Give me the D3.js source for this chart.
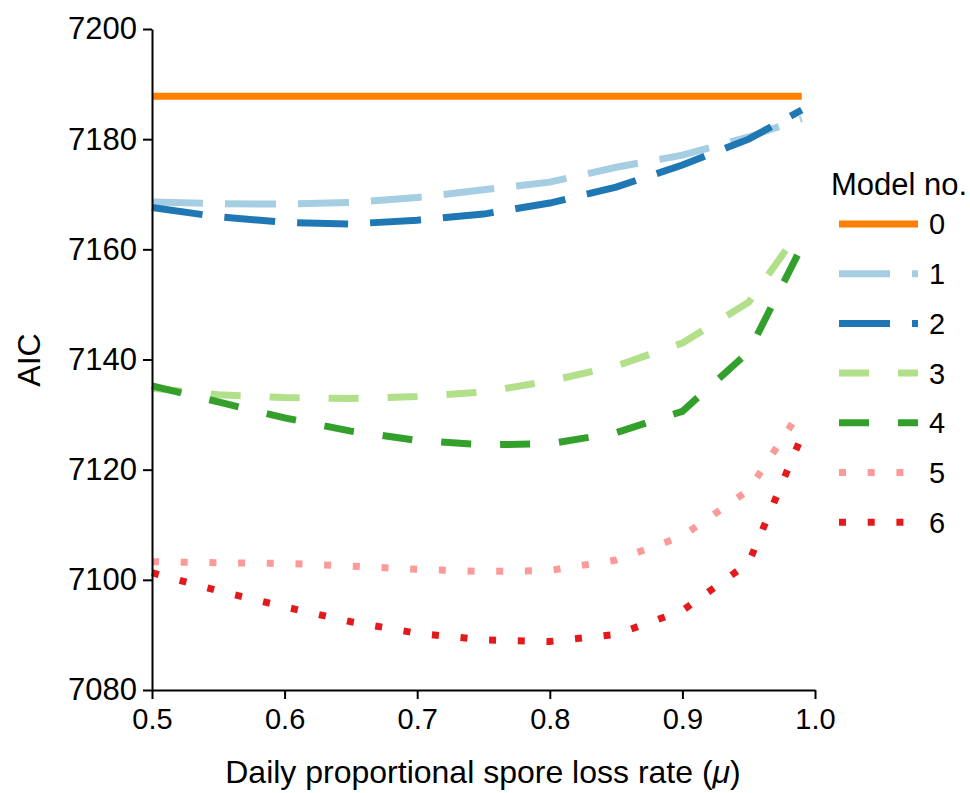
<!DOCTYPE html>
<html>
<head>
<meta charset="utf-8">
<script src="https://cdn.jsdelivr.net/npm/d3@7"></script>
<style>
  body { margin: 0; background: #fff; }
  text { font-family: "Liberation Sans", Arial, Helvetica, sans-serif; fill: #000; }
</style>
</head>
<body>
<div id="chart"></div>
<script>
// spore loss rate grid
var mu = [0.5, 0.55, 0.6, 0.65, 0.7, 0.75, 0.8, 0.85, 0.9, 0.95, 0.99];

// AIC per model
var aic0 = [7187.8, 7187.8, 7187.8, 7187.8, 7187.8, 7187.8, 7187.8, 7187.8, 7187.8, 7187.8, 7187.8];
var aic1 = [7168.6, 7168.3, 7168.2, 7168.5, 7169.4, 7170.8, 7172.2, 7174.9, 7177.1, 7180.4, 7183.7];
var aic2 = [7167.6, 7165.9, 7164.9, 7164.6, 7165.3, 7166.4, 7168.4, 7171.3, 7175.3, 7180.0, 7185.3];
var aic3 = [7134.8, 7133.6, 7133.1, 7132.9, 7133.3, 7134.1, 7136.1, 7138.8, 7143.0, 7150.4, 7163.9];
var aic4 = [7135.2, 7132.3, 7129.4, 7127.0, 7125.3, 7124.5, 7124.7, 7126.7, 7130.6, 7141.4, 7160.5];
var aic5 = [7103.3, 7103.1, 7103.0, 7102.5, 7101.9, 7101.5, 7101.7, 7103.6, 7107.9, 7116.3, 7131.0];
var aic6 = [7101.3, 7098.0, 7095.1, 7092.4, 7090.3, 7089.1, 7088.8, 7090.1, 7094.4, 7103.1, 7126.1];

var modelNames = ["0", "1", "2", "3", "4", "5", "6"];
var xTicks = [0.5, 0.6, 0.7, 0.8, 0.9, 1.0];
var yTicks = [7080, 7100, 7120, 7140, 7160, 7180, 7200];

var colors = ["#ff7f00", "#a6cee3", "#1f78b4", "#b2df8a", "#33a02c", "#fb9a99", "#e31a1c"];
var dashes = [null, "51,22", "51,22", "30,29", "30,29", "7,21.7", "7,21.7"];

var width = 970, height = 793;
var lineW = 7;

var series = [aic0, aic1, aic2, aic3, aic4, aic5, aic6].map(function(vals, i) {
  return { name: modelNames[i], values: vals.map(function(v, j) { return { mu: mu[j], aic: v }; }) };
});

var svg = d3.select("#chart").append("svg")
  .attr("width", width)
  .attr("height", height);

var x = d3.scaleLinear().domain([0.5, 1.0]).range([152, 815]);
var y = d3.scaleLinear().domain([7080, 7200]).range([690, 29]);

var line = d3.line()
  .x(function(d) { return x(d.mu); })
  .y(function(d) { return y(d.aic); });

svg.append("g")
  .selectAll("path")
  .data(series)
  .enter().append("path")
  .attr("d", function(d) { return line(d.values); })
  .attr("fill", "none")
  .attr("stroke", function(d, i) { return colors[i]; })
  .attr("stroke-width", lineW)
  .attr("stroke-linecap", "butt")
  .attr("stroke-linejoin", "miter")
  .attr("stroke-dasharray", function(d, i) { return dashes[i]; });

// axes
var xAxis = svg.append("g")
  .attr("transform", "translate(0,690)")
  .call(d3.axisBottom(x).tickValues(xTicks).tickFormat(d3.format(".1f")).tickSize(9).tickSizeOuter(0).tickPadding(9));

var yAxis = svg.append("g")
  .attr("transform", "translate(152,0)")
  .call(d3.axisLeft(y).tickValues(yTicks).tickFormat(d3.format("d")).tickSize(9).tickSizeOuter(0).tickPadding(6));

[xAxis, yAxis].forEach(function(a) {
  a.select(".domain").attr("stroke", "#000").attr("stroke-width", 2);
  a.selectAll(".tick line").attr("stroke", "#000").attr("stroke-width", 2);
  a.selectAll(".tick text")
    .style("font-family", "'Liberation Sans', Arial, sans-serif")
    .attr("fill", "#000");
});
xAxis.selectAll(".tick text").style("font-size", "29px");
yAxis.selectAll(".tick text").style("font-size", "31px");

// axis titles
var xTitle = svg.append("text")
  .attr("x", 483)
  .attr("y", 783)
  .attr("text-anchor", "middle")
  .style("font-size", "32px");
xTitle.append("tspan").text("Daily proportional spore loss rate (");
xTitle.append("tspan").style("font-style", "italic").text("\u03bc");
xTitle.append("tspan").text(")");

svg.append("text")
  .attr("transform", "translate(40,360) rotate(-90)")
  .attr("text-anchor", "middle")
  .style("font-size", "32px")
  .text("AIC");

// legend
var legend = svg.append("g");

legend.append("text")
  .attr("x", 831)
  .attr("y", 195)
  .style("font-size", "31px")
  .text("Model no.");

var item = legend.selectAll(".item")
  .data(series)
  .enter().append("g")
  .attr("class", "item")
  .attr("transform", function(d, i) { return "translate(0," + (224 + i * 49.7) + ")"; });

item.append("line")
  .attr("x1", 839)
  .attr("x2", 918)
  .attr("stroke", function(d, i) { return colors[i]; })
  .attr("stroke-width", lineW)
  .attr("stroke-dasharray", function(d, i) { return dashes[i]; });

item.append("text")
  .attr("x", 929)
  .attr("dy", "0.36em")
  .style("font-size", "29px")
  .text(function(d) { return d.name; });
</script>
</body>
</html>
